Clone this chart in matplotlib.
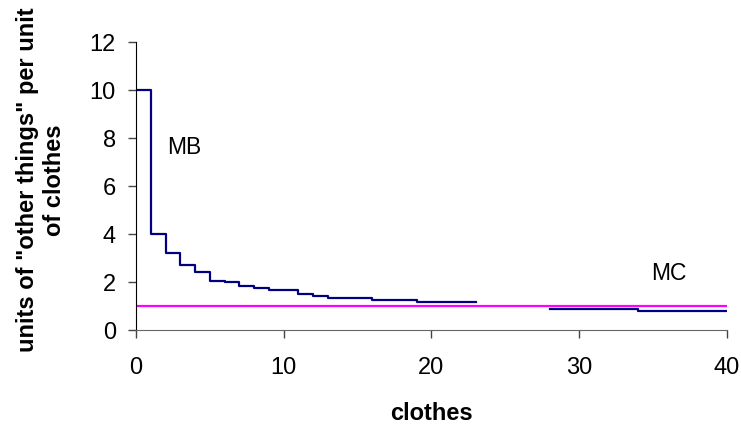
import numpy as np
from matplotlib import pyplot as plt

plt.rcParams["font.family"] = ["Liberation Sans", "DejaVu Sans"]

# marginal benefit, one value per unit of clothes (step starts)
mb_x1 = [0, 1, 2, 3, 4, 5, 6, 7, 8, 9, 11, 12, 13, 16, 19, 23]
mb_y1 = [10, 4, 3.2, 2.7, 2.43, 2.05, 2.0, 1.83, 1.75, 1.65, 1.5, 1.42, 1.32, 1.24, 1.15, 1.15]
mb_x2 = [28, 34, 40]
mb_y2 = [0.89, 0.79, 0.79]

mc_x = [0, 40]
mc_y = [1, 1]

fig = plt.figure(figsize=(7.41, 4.25), dpi=100)
ax = fig.add_axes([0.1835, 0.2235, 0.7975, 0.6775])

ax.step(mb_x1, mb_y1, where="post", color="#000080", lw=1.6)
ax.step(mb_x2, mb_y2, where="post", color="#000080", lw=1.6)
ax.plot(mc_x, mc_y, color="#FF00FF", lw=1.6)

ax.text(3.3, 7.6, "MB", fontsize=16.5, ha="center", va="center")
ax.text(36.1, 2.37, "MC", fontsize=16.5, ha="center", va="center")

ax.set_xlim(0, 40)
ax.set_ylim(0, 12)
ax.set_xticks([0, 10, 20, 30, 40])
ax.set_yticks([0, 2, 4, 6, 8, 10, 12])
ax.tick_params(labelsize=17, length=5.5, width=1, direction="out", color="#444444")
ax.tick_params(axis="x", pad=14)
ax.tick_params(axis="y", pad=9)
ax.spines["top"].set_visible(False)
ax.spines["right"].set_visible(False)
ax.spines["bottom"].set_color("#666666")

fig.text(431 / 741, 1 - 413 / 425, "clothes", fontsize=17, fontweight="bold",
         ha="center", va="center")
fig.text(41 / 741, 1 - 180 / 425, 'units of "other things" per unit\nof clothes',
         fontsize=17, fontweight="bold", ha="center", va="center",
         rotation=90, multialignment="center", linespacing=1.2)

plt.savefig("out.png")
